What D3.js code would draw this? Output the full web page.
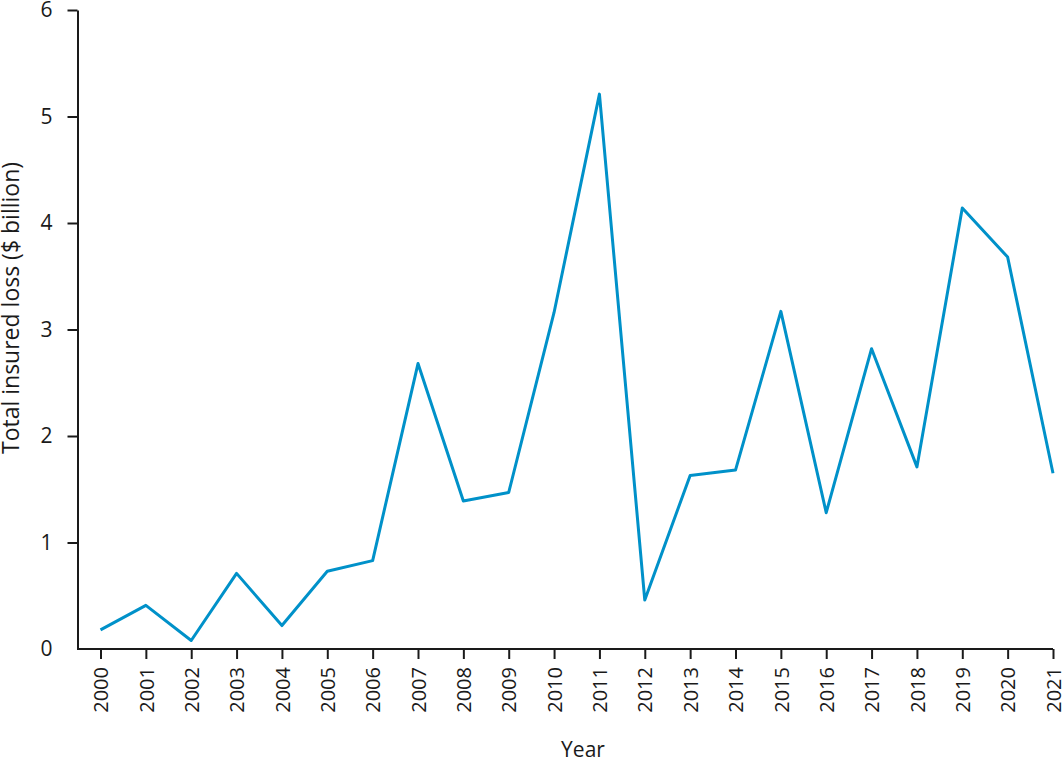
<!DOCTYPE html>
<html>
<head>
<meta charset="utf-8">
<script src="https://cdn.jsdelivr.net/npm/d3@7"></script>
<style>
  body { margin: 0; background: #fff; }
  text { font-family: "Open Sans", sans-serif; fill: #1a1a1a; }
</style>
</head>
<body>
<div id="chart-holder"></div>
<script>
// values
var years = [2000, 2001, 2002, 2003, 2004, 2005, 2006, 2007, 2008, 2009, 2010,
             2011, 2012, 2013, 2014, 2015, 2016, 2017, 2018, 2019, 2020, 2021];
var losses = [0.18, 0.41, 0.08, 0.71, 0.22, 0.73, 0.83, 2.68, 1.39, 1.47, 3.16,
              5.21, 0.46, 1.63, 1.68, 3.17, 1.28, 2.82, 1.71, 4.14, 3.68, 1.65];
var yTicks = [0, 1, 2, 3, 4, 5, 6];

var width = 1064, height = 760;

var svg = d3.select("#chart-holder").append("svg")
  .attr("width", width)
  .attr("height", height);

var x = d3.scaleLinear()
  .domain([2000, 2021])
  .range([100.5, 1053]);

var y = d3.scaleLinear()
  .domain([0, 6])
  .range([649, 10]);

// y axis
var yAxis = svg.append("g")
  .attr("transform", "translate(77.5,0)")
  .call(d3.axisLeft(y).tickValues(yTicks).tickFormat(d3.format("d"))
    .tickSize(10).tickPadding(15).tickSizeOuter(0));
yAxis.select(".domain").attr("stroke", "#1a1a1a").attr("stroke-width", 2);
yAxis.selectAll(".tick line").attr("stroke", "#1a1a1a").attr("stroke-width", 2)
  .filter(function(d) { return d === 0; }).remove();
yAxis.selectAll(".tick text").style("font-size", "21px");

// x axis
var xAxis = svg.append("g")
  .attr("transform", "translate(0,649)")
  .call(d3.axisBottom(x).tickValues(years).tickFormat(d3.format("d")).tickSize(10).tickSizeOuter(0));
xAxis.select(".domain").remove();
xAxis.append("line")
  .attr("x1", 77).attr("x2", x(2021))
  .attr("stroke", "#1a1a1a").attr("stroke-width", 2);
xAxis.selectAll(".tick line").attr("stroke", "#1a1a1a").attr("stroke-width", 2);
xAxis.selectAll(".tick text")
  .style("font-size", "20px")
  .attr("text-anchor", "end")
  .attr("transform", "rotate(-90)")
  .attr("x", -18)
  .attr("y", 0)
  .attr("dy", "0.36em");

// line
var line = d3.line()
  .x(function(d, i) { return x(years[i]); })
  .y(function(d) { return y(d); });

svg.append("path")
  .datum(losses)
  .attr("d", line)
  .attr("fill", "none")
  .attr("stroke", "#0091c9")
  .attr("stroke-width", 3)
  .attr("stroke-linejoin", "round");

// axis titles
svg.append("text")
  .attr("transform", "translate(19,308) rotate(-90)")
  .attr("text-anchor", "middle")
  .style("font-size", "23px")
  .text("Total insured loss ($ billion)");

svg.append("text")
  .attr("x", 583)
  .attr("y", 757)
  .attr("text-anchor", "middle")
  .style("font-size", "21px")
  .text("Year");
</script>
</body>
</html>
